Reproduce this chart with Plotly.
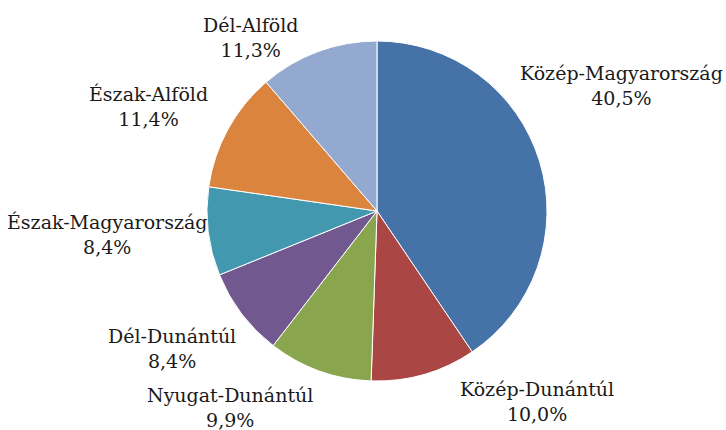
import plotly.graph_objects as go

regions = ["Közép-Magyarország", "Közép-Dunántúl", "Nyugat-Dunántúl", "Dél-Dunántúl",
           "Észak-Magyarország", "Észak-Alföld", "Dél-Alföld"]
shares = [40.5, 10.0, 9.9, 8.4, 8.4, 11.4, 11.3]
colors = ["#4572A7", "#AA4643", "#89A54E", "#71588F", "#4198AF", "#DB843D", "#93A9CF"]

# label centre positions (pixels in a 726x430 canvas)
label_pos = [(621, 85), (537, 401), (230, 407), (172, 348), (107, 234), (148, 106), (250, 38)]

W, H = 726, 430
cx, cy, r = 377, 211, 170

fig = go.Figure(go.Pie(
    labels=regions, values=shares, sort=False, direction="clockwise", rotation=0,
    marker=dict(colors=colors, line=dict(color="white", width=1)),
    textinfo="none", hoverinfo="label+percent", showlegend=False,
    domain=dict(x=[(cx - r) / W, (cx + r) / W], y=[1 - (cy + r) / H, 1 - (cy - r) / H]),
))

for name, val, (px, py) in zip(regions, shares, label_pos):
    fig.add_annotation(
        x=px / W, y=1 - py / H, xref="paper", yref="paper",
        text=f"{name}<br>{val:.1f}%".replace(".", ","),
        showarrow=False, xanchor="center", yanchor="middle",
        font=dict(family="DejaVu Serif", size=19, color="#1a1a1a"),
    )

fig.update_layout(width=W, height=H, margin=dict(l=0, r=0, t=0, b=0),
                  paper_bgcolor="white", plot_bgcolor="white")
fig.write_html("out.html", post_script="document.body.style.margin='0';",
               config={"displayModeBar": False})
